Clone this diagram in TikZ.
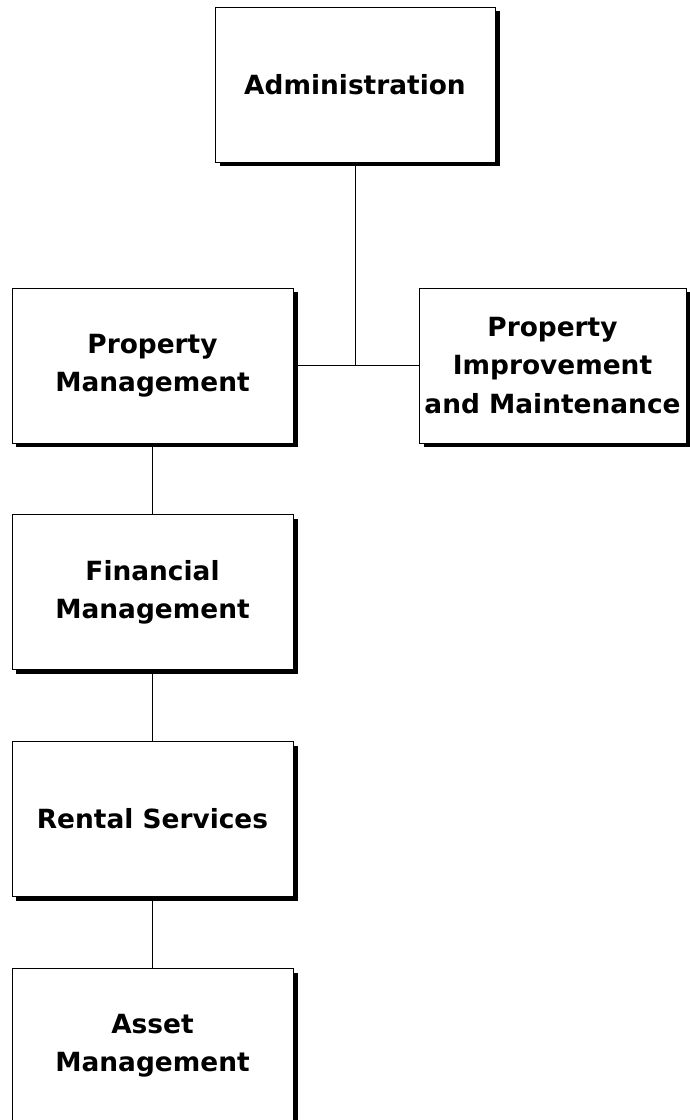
\documentclass[tikz,border=0pt]{standalone}
\usepackage{fontspec}
\setmainfont{DejaVu Sans}
\usetikzlibrary{positioning,shadows}

\begin{document}
\begin{tikzpicture}[x=1bp,y=1bp,
  box/.style={draw,fill=white,line width=0.8bp,minimum height=155bp,inner sep=0pt,align=center,
    font=\bfseries\fontsize{26.5}{38.5}\selectfont,
    general shadow={fill=black,shadow xshift=4.5bp,shadow yshift=-4.5bp}},
  link/.style={line width=0.8bp}]
\useasboundingbox (0,0) rectangle (690,1120);
\node[box,minimum width=280bp] (adm) at (355,1035.5) {Administration};
\node[box,minimum width=281bp] (pm) at (152.5,754.5) {Property\\Management};
\node[box,minimum width=267bp] (pim) at (552.5,754.5) {Property\\Improvement\\and Maintenance};
\node[box,minimum width=281bp,below=71bp of pm] (fm) {Financial\\Management};
\node[box,minimum width=281bp,below=71bp of fm] (rs) {Rental Services};
\node[box,minimum width=281bp,below=71bp of rs] (am) {Asset\\Management};
\draw[link] (pm.east) -- (pim.west);
\draw[link] (adm.south) -- (adm.south |- pm.east);
\draw[link] (pm) -- (fm); \draw[link] (fm) -- (rs); \draw[link] (rs) -- (am);
\end{tikzpicture}
\end{document}
